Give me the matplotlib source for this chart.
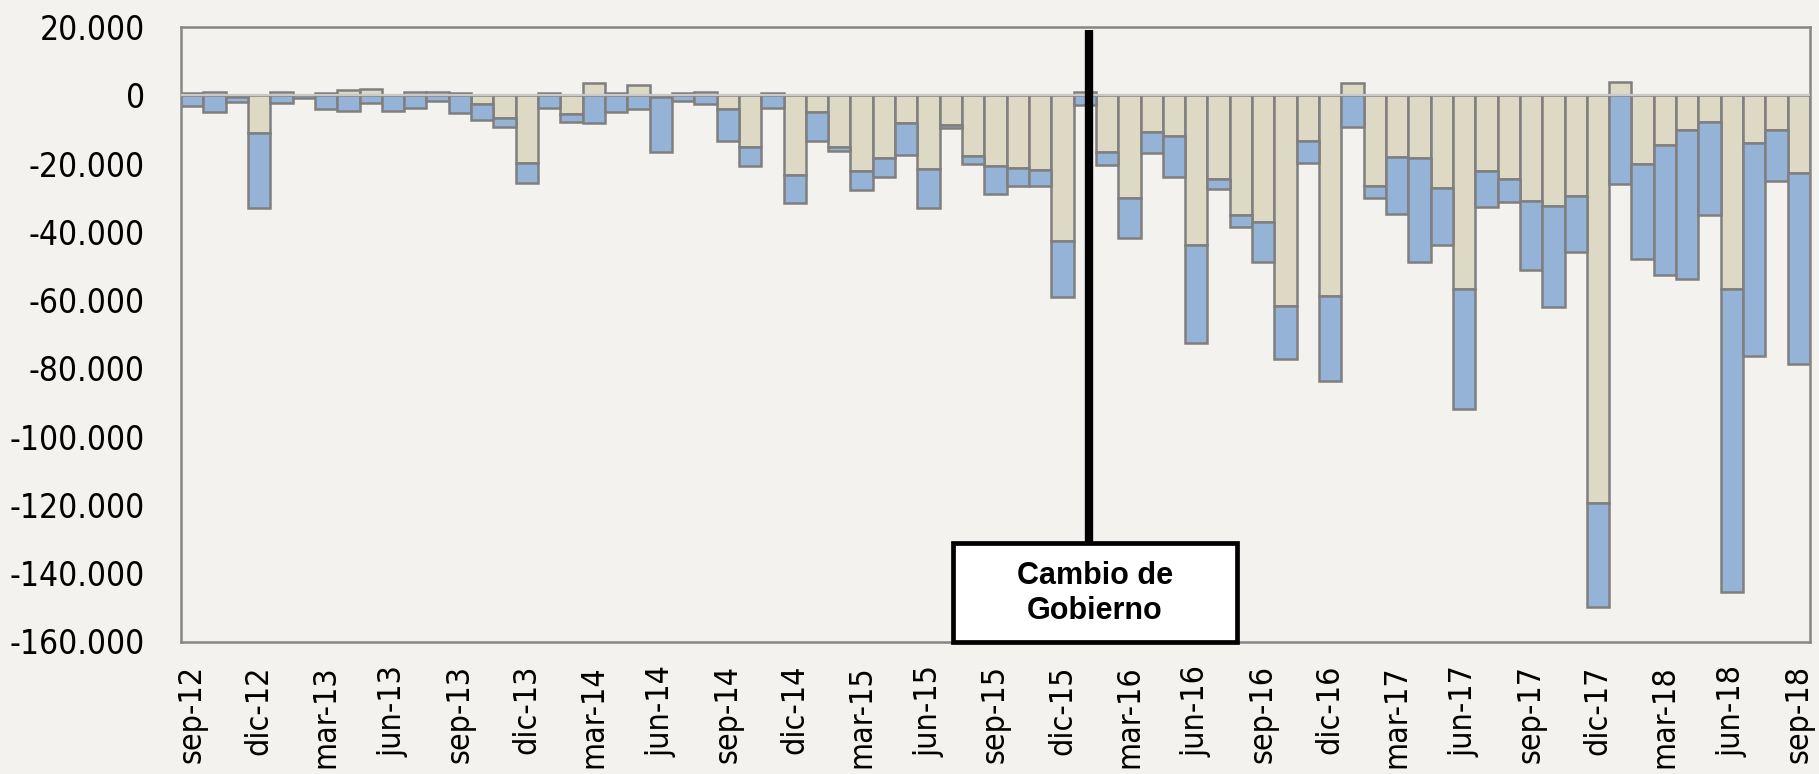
import matplotlib
matplotlib.use("Agg")
import matplotlib.pyplot as plt
from matplotlib.patches import Rectangle
import numpy as np

# Monthly series, thousands (sep-12 .. sep-18)
months = ["sep", "oct", "nov", "dic", "ene", "feb", "mar", "abr", "may", "jun", "jul", "ago"]
start_year = 12
n_months = 73

beige_vals = [
    0.8, 0.9, -0.4, -11.1, 0.9, 0.2, 0.6, 1.5, 1.7, 0.2, 0.9, 1.1,
    0.6, -2.6, -6.7, -19.9, 0.8, -5.6, 3.5, 0.7, 3.0, -0.4, 0.8, 1.0,
    -4.1, -15.1, 0.6, -23.3, -4.8, -15.2, -22.2, -18.4, -8.2, -21.7, -8.8, -17.8,
    -20.7, -21.4, -21.9, -42.8, 0.9, -16.6, -30.0, -10.8, -12.0, -43.8, -24.4, -35.2,
    -37.1, -61.7, -13.3, -58.8, 3.7, -26.5, -18.0, -18.5, -27.1, -56.8, -22.1, -24.6,
    -31.1, -32.3, -29.5, -119.5, 4.0, -20.2, -14.7, -10.2, -7.8, -56.6, -14.1, -10.2,
    -22.9,
]
blue_vals = [
    -3.0, -4.8, -1.7, -22.0, -2.4, -0.9, -4.1, -4.5, -2.3, -4.5, -3.6, -1.6,
    -5.3, -4.6, -2.7, -5.7, -3.8, -2.1, -8.0, -4.8, -4.1, -16.3, -1.8, -2.6,
    -9.2, -5.6, -3.7, -8.4, -8.7, -1.2, -5.6, -5.6, -9.2, -11.2, -0.9, -2.3,
    -8.1, -5.1, -4.8, -16.2, -2.9, -3.9, -11.7, -6.2, -11.8, -28.8, -3.1, -3.4,
    -11.6, -15.6, -6.6, -24.9, -9.2, -3.5, -16.8, -30.4, -16.9, -35.0, -10.5, -6.8,
    -20.0, -29.6, -16.5, -30.4, -26.0, -27.7, -37.9, -43.6, -27.2, -88.8, -62.4, -14.8,
    -55.7,
]

y_ticks = [20, 0, -20, -40, -60, -80, -100, -120, -140, -160]
event_label = "Cambio de\nGobierno"
event_x = 40.2

labels = []
for i in range(n_months):
    m = months[i % 12]
    yr = start_year + (i + 8) // 12
    labels.append(f"{m}-{yr:02d}")

bg = "#F3F2EE"
beige_c = "#DDD9C4"
blue_c = "#95B3D7"
edge_c = "#7F7F7F"

fig = plt.figure(figsize=(18.19, 7.74), dpi=100, facecolor=bg)
ax = fig.add_axes([181 / 1819, 1 - 641.5 / 774, (1810 - 181) / 1819, (641.5 - 27) / 774])
ax.set_facecolor(bg)

x = np.arange(n_months)
beige = np.array(beige_vals)
blue = np.array(blue_vals)

# Excel-style stacking: positives pile up from zero, negatives pile down
pos_base = np.zeros(n_months)
neg_base = np.zeros(n_months)
for vals, col in ((beige, beige_c), (blue, blue_c)):
    bottoms = np.where(vals >= 0, pos_base, neg_base)
    ax.bar(x, vals, bottom=bottoms, width=1.0, color=col, edgecolor=edge_c,
           linewidth=1.8, zorder=2)
    pos_base = pos_base + np.where(vals >= 0, vals, 0)
    neg_base = neg_base + np.where(vals < 0, vals, 0)

ax.axhline(0, color="#C9C9C9", linewidth=1.6, zorder=3)

ax.set_xlim(-0.5, n_months - 0.5)
ax.set_ylim(-160, 20)

ax.set_yticks(y_ticks)
ax.set_yticklabels(["0" if v == 0 else f"{v * 1000:,.0f}".replace(",", ".") for v in y_ticks],
                   fontsize=24, family="DejaVu Sans", fontstretch="condensed")
tick_idx = list(range(0, n_months, 3))
ax.set_xticks(tick_idx)
ax.set_xticklabels([labels[i] for i in tick_idx], rotation=90, fontsize=23,
                   family="DejaVu Sans", fontstretch="condensed")
ax.tick_params(axis="y", length=0, pad=26)
ax.tick_params(axis="x", length=0, pad=17)

for s in ax.spines.values():
    s.set_color("#868686")
    s.set_linewidth(1.8)

# Government change marker
box_l, box_r, box_top = 34.1, 46.8, -131.1
ax.plot([event_x, event_x], [19.2, box_top], color="black", linewidth=6, zorder=5,
        solid_capstyle="butt")
ax.add_patch(Rectangle((box_l, -160), box_r - box_l, box_top + 160, facecolor="white",
                       edgecolor="black", linewidth=3.4, zorder=6, clip_on=False))
ax.text((box_l + box_r) / 2, -146.0, event_label, ha="center", va="center",
        fontsize=22, fontweight="bold", family=["Liberation Sans", "DejaVu Sans"],
        linespacing=1.2, zorder=7)

fig.savefig("out.png", dpi=100, facecolor=bg)
